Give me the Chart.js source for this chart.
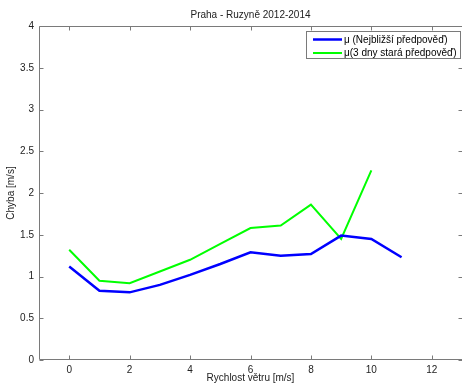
<!DOCTYPE html>
<html>
<head>
<meta charset="utf-8">
<script src="https://cdn.jsdelivr.net/npm/chart.js@4"></script>
<style>
  html, body { margin: 0; padding: 0; background: #fff; }
  #wrap { width: 462px; height: 387px; }
</style>
</head>
<body>
<div id="wrap"><canvas id="chart" width="462" height="387"></canvas></div>
<script>
// wind speed bins [m/s]
const windSpeed = [0, 1, 2, 3, 4, 5, 6, 7, 8, 9, 10, 11];
// mean error of the nearest forecast
const errNearest = [1.12, 0.83, 0.81, 0.90, 1.02, 1.15, 1.29, 1.25, 1.27, 1.49, 1.45, 1.23];
// mean error of the 3 days old forecast
const errThreeDays = [1.32, 0.95, 0.92, 1.06, 1.20, 1.39, 1.58, 1.61, 1.86, 1.45, 2.27];

const xTicks = [0, 2, 4, 6, 8, 10, 12];
const yTicks = [0, 0.5, 1, 1.5, 2, 2.5, 3, 3.5, 4];

const chartTitle = "Praha - Ruzyně 2012-2014";
const FONT = "'Liberation Sans', Arial, sans-serif";
const AXIS_COLOR = "#7a7a7a";
const TEXT_COLOR = "#222";

function toPoints(xs, ys) {
  return ys.map((y, i) => ({ x: xs[i], y: y }));
}

// matlab-like frame: box lines, inward ticks on all sides, title and legend box
const matlabFrame = {
  id: "matlabFrame",
  beforeDatasetsDraw(chart) {
    const { ctx, chartArea } = chart;
    const xs = chart.scales.x, ys = chart.scales.y;
    const L = chartArea.left + 0.5, R = chartArea.right - 0.5;
    const T = chartArea.top + 0.5, B = chartArea.bottom - 0.5;
    const tick = 4;
    ctx.save();
    ctx.strokeStyle = AXIS_COLOR;
    ctx.lineWidth = 1;
    ctx.beginPath();
    ctx.moveTo(L, T); ctx.lineTo(L, B); ctx.lineTo(R + 1, B);
    ctx.moveTo(L, T); ctx.lineTo(R + 1, T);
    xTicks.forEach(v => {
      const px = Math.round(xs.getPixelForValue(v)) + 0.5;
      ctx.moveTo(px, B); ctx.lineTo(px, B - tick);
      ctx.moveTo(px, T); ctx.lineTo(px, T + tick);
    });
    yTicks.forEach(v => {
      const py = Math.round(ys.getPixelForValue(v)) + 0.5;
      ctx.moveTo(L, py); ctx.lineTo(L + tick, py);
      ctx.moveTo(R + 1, py); ctx.lineTo(R + 1 - tick, py);
    });
    ctx.stroke();

    // title over the plot area
    ctx.fillStyle = TEXT_COLOR;
    ctx.font = "10px " + FONT;
    ctx.textAlign = "center";
    ctx.textBaseline = "alphabetic";
    ctx.fillText(chartTitle, (chartArea.left + chartArea.right) / 2, 18);
    ctx.restore();
  },
  afterDatasetsDraw(chart) {
    const { ctx } = chart;
    const box = { x: 306.5, y: 31.5, w: 154, h: 27 };
    ctx.save();
    ctx.fillStyle = "#fff";
    ctx.fillRect(box.x, box.y, box.w, box.h);
    ctx.strokeStyle = AXIS_COLOR;
    ctx.lineWidth = 1;
    ctx.strokeRect(box.x, box.y, box.w, box.h);
    ctx.font = "10px " + FONT;
    ctx.textAlign = "left";
    ctx.textBaseline = "middle";
    chart.data.datasets.forEach((ds, i) => {
      const y = 39.5 + i * 13.5;
      ctx.strokeStyle = ds.borderColor;
      ctx.lineWidth = ds.borderWidth;
      ctx.beginPath();
      ctx.moveTo(313, y); ctx.lineTo(342, y);
      ctx.stroke();
      ctx.fillStyle = "#000";
      ctx.fillText(ds.label, 344, y + 0.5);
    });
    ctx.restore();
  }
};

new Chart(document.getElementById("chart"), {
  type: "line",
  data: {
    datasets: [
      {
        label: "μ (Nejbližší předpověď)",
        data: toPoints(windSpeed, errNearest),
        borderColor: "#0000ff",
        borderWidth: 2.5,
        pointRadius: 0,
        tension: 0,
        fill: false
      },
      {
        label: "μ(3 dny stará předpověď)",
        data: toPoints(windSpeed, errThreeDays),
        borderColor: "#00ff00",
        borderWidth: 2,
        pointRadius: 0,
        tension: 0,
        fill: false
      }
    ]
  },
  options: {
    responsive: false,
    devicePixelRatio: 1,
    animation: false,
    layout: { padding: { top: 26, right: 0, left: 0, bottom: 0 } },
    plugins: {
      legend: { display: false },
      tooltip: { enabled: false },
      title: { display: false }
    },
    scales: {
      x: {
        type: "linear",
        min: -1,
        max: 13,
        grid: { display: false, drawTicks: false },
        border: { display: false },
        afterBuildTicks: s => { s.ticks = xTicks.map(v => ({ value: v })); },
        afterFit: s => { s.height = 27; },
        ticks: {
          color: TEXT_COLOR,
          padding: 4,
          maxRotation: 0,
          font: { family: FONT, size: 10 },
          callback: v => String(v)
        },
        title: {
          display: true,
          text: "Rychlost větru [m/s]",
          color: TEXT_COLOR,
          font: { family: FONT, size: 10 },
          padding: { top: 0, bottom: 3 }
        }
      },
      y: {
        min: 0,
        max: 4,
        grid: { display: false, drawTicks: false },
        border: { display: false },
        afterBuildTicks: s => { s.ticks = yTicks.map(v => ({ value: v })); },
        afterFit: s => { s.width = 39; },
        ticks: {
          color: TEXT_COLOR,
          padding: 5,
          font: { family: FONT, size: 10 },
          callback: v => String(v)
        },
        title: {
          display: true,
          text: "Chyba [m/s]",
          color: TEXT_COLOR,
          font: { family: FONT, size: 10 },
          padding: { top: 5, bottom: 0 }
        }
      }
    }
  },
  plugins: [matlabFrame]
});
</script>
</body>
</html>
